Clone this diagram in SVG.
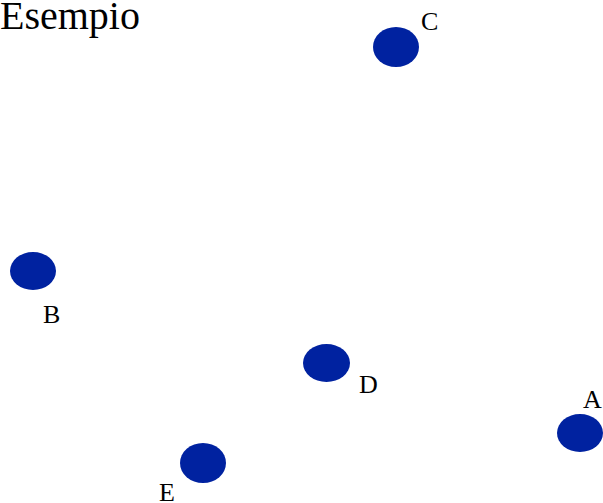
<svg xmlns="http://www.w3.org/2000/svg" width="603" height="503" viewBox="0 0 603 503">
  <style>
    .node ellipse { fill: #0022a0; }
  </style>
  <rect width="603" height="503" fill="#fff"/>
  <text x="0" y="29" font-family="Liberation Serif, Times New Roman, serif" font-size="40" fill="#000">Esempio</text>
  <g id="connectors"></g>
  <g font-family="Liberation Serif, Times New Roman, serif" font-size="26" fill="#000">
    <g id="node-C" class="node">
      <ellipse cx="396" cy="47" rx="23" ry="20"/>
      <text x="421" y="30">C</text>
    </g>
    <g id="node-B" class="node">
      <ellipse cx="33" cy="271" rx="23" ry="19"/>
      <text x="43" y="323">B</text>
    </g>
    <g id="node-D" class="node">
      <ellipse cx="326.5" cy="363" rx="23.5" ry="19"/>
      <text x="359" y="393">D</text>
    </g>
    <g id="node-A" class="node">
      <ellipse cx="580" cy="433" rx="23" ry="19"/>
      <text x="583" y="408">A</text>
    </g>
    <g id="node-E" class="node">
      <ellipse cx="203" cy="463" rx="23" ry="20"/>
      <text x="159" y="501">E</text>
    </g>
  </g>
</svg>
